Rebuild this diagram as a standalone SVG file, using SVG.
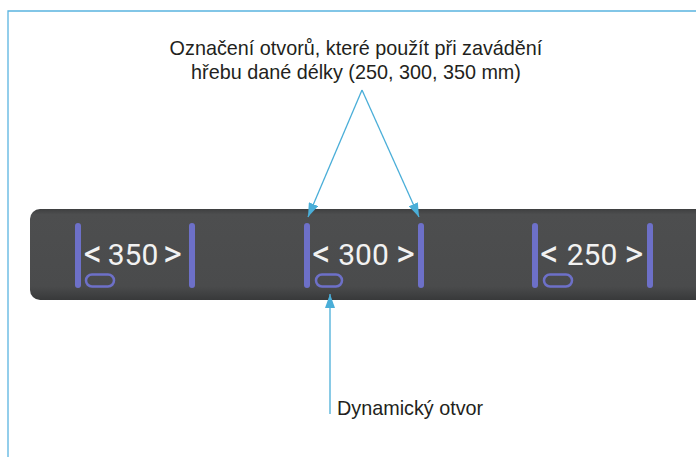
<svg xmlns="http://www.w3.org/2000/svg" width="696" height="457" viewBox="0 0 696 457">
<style>
.lbl{font-family:"Liberation Sans",Arial,sans-serif;font-size:19.8px;fill:#231f20}
.num{font-family:Roboto,"Liberation Sans",sans-serif;font-size:30px;fill:#f2f2f2;text-anchor:middle}
.chev{font-size:36px;font-weight:400}
.mark{fill:#6d70c8}
.hole{fill:none;stroke:#6d70c8;stroke-width:2.5}
.conn{stroke:#4aaed8;stroke-width:1.3;fill:none}
.frame{stroke:#5ab4e0;stroke-width:1.3;fill:none}
</style>
<defs>
<linearGradient id="bar" x1="0" y1="0" x2="0" y2="1">
<stop offset="0" stop-color="#3e3f40"/>
<stop offset="0.06" stop-color="#4d4e4f"/>
<stop offset="0.85" stop-color="#4a4b4c"/>
<stop offset="1" stop-color="#38393a"/>
</linearGradient>
<marker id="ah" viewBox="0 0 14 10" refX="14" refY="5" markerWidth="14" markerHeight="10" markerUnits="userSpaceOnUse" orient="auto">
<path d="M0,0 L14,5 L0,10 Z" fill="#4aaed8"/>
</marker>
</defs>
<rect width="696" height="457" fill="#ffffff"/>
<path class="frame" d="M8,457 V11 H696"/>
<g id="bar-strip">
<rect x="30" y="209" width="700" height="91" rx="10" fill="url(#bar)"/>
</g>
<g id="set-350">
<rect class="mark" x="75" y="223" width="6" height="65" rx="3"/>
<rect class="mark" x="189" y="223" width="6" height="65" rx="3"/>
<text class="num chev" x="93" y="266">&lt;</text>
<text class="num" x="133" y="265">350</text>
<text class="num chev" x="172.5" y="266">&gt;</text>
<rect class="hole" x="86" y="274.5" width="28" height="12" rx="6"/>
</g>
<g id="set-300">
<rect class="mark" x="304" y="223" width="6" height="65" rx="3"/>
<rect class="mark" x="418" y="223" width="6" height="65" rx="3"/>
<text class="num chev" x="321.5" y="266">&lt;</text>
<text class="num" x="363.5" y="265">300</text>
<text class="num chev" x="405.5" y="266">&gt;</text>
<rect class="hole" x="316" y="274.5" width="26" height="12" rx="6"/>
</g>
<g id="set-250">
<rect class="mark" x="532" y="223" width="6" height="65" rx="3"/>
<rect class="mark" x="647" y="223" width="6" height="65" rx="3"/>
<text class="num chev" x="549.5" y="266">&lt;</text>
<text class="num" x="592" y="265">250</text>
<text class="num chev" x="634" y="266">&gt;</text>
<rect class="hole" x="544" y="274.5" width="28" height="12" rx="6"/>
</g>
<g id="label-top">
<text class="lbl" x="356" y="55" text-anchor="middle">Označení otvorů, které použít při zavádění</text>
<text class="lbl" x="356" y="79" text-anchor="middle">hřebu dané délky (250, 300, 350 mm)</text>
</g>
<g id="label-bottom">
<text class="lbl" x="337" y="415">Dynamický otvor</text>
</g>
<g id="connectors">
<path class="conn" d="M362,90 L308,217" marker-end="url(#ah)"/>
<path class="conn" d="M362,90 L419,217" marker-end="url(#ah)"/>
<path class="conn" d="M330,414 V294" marker-end="url(#ah)"/>
</g>
</svg>
